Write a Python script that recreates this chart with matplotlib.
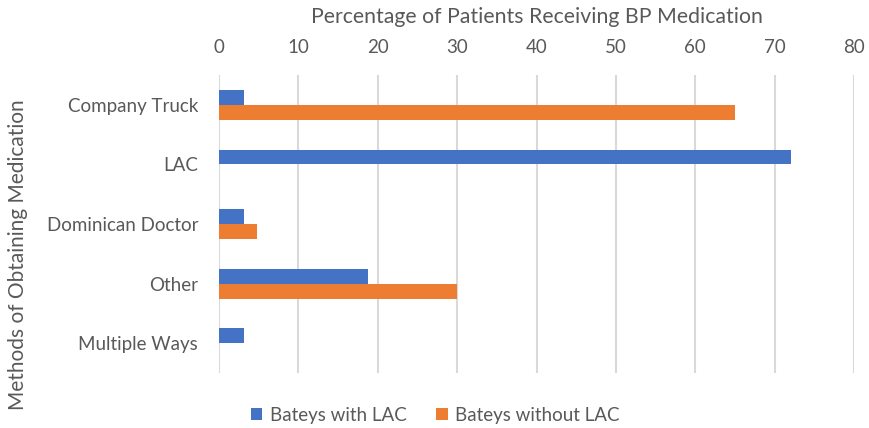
import numpy as np
import matplotlib.pyplot as plt

plt.rcParams["font.family"] = ["Lato", "DejaVu Sans"]

categories = ["Company Truck", "LAC", "Dominican Doctor", "Other", "Multiple Ways"]
with_lac = [3.1, 72, 3.1, 18.8, 3.1]
without_lac = [65, 0, 4.8, 30, 0]
xticks = [0, 10, 20, 30, 40, 50, 60, 70, 80]

text_color = "#595959"
blue = "#4472C4"
orange = "#ED7D31"

W, H = 870, 428
fig = plt.figure(figsize=(W / 100, H / 100), dpi=100)
top, bottom = 75, 373
ax = fig.add_axes([219 / W, 1 - bottom / H, (854 - 219) / W, (bottom - top) / H])

y = np.arange(len(categories))
h = 0.25
ax.barh(y - h / 2, with_lac, height=h, color=blue, label="Bateys with LAC", zorder=3)
ax.barh(y + h / 2, without_lac, height=h, color=orange, label="Bateys without LAC", zorder=3)

ax.set_ylim(len(categories) - 0.5, -0.5)
ax.set_xlim(0, 80)
ax.set_xticks(xticks)
ax.set_yticks(y)
ax.set_yticklabels(categories)
ax.xaxis.tick_top()
ax.xaxis.set_label_position("top")
ax.set_xlabel("Percentage of Patients Receiving BP Medication", fontsize=15.3,
              color=text_color, va="center")
ax.xaxis.set_label_coords(0.5, (bottom - 17) / (bottom - top))
ax.set_ylabel("Methods of Obtaining Medication", fontsize=15, color=text_color,
              va="center")
ax.yaxis.set_label_coords((18 - 219) / (854 - 219), (bottom - 255) / (bottom - top))

ax.tick_params(axis="both", length=0, labelsize=13.5, colors=text_color)
ax.tick_params(axis="x", pad=14)
ax.tick_params(axis="y", pad=15)
ax.grid(axis="x", color="#D9D9D9", linewidth=1.5, zorder=0)
for s in ax.spines.values():
    s.set_visible(False)

leg = fig.legend(loc="center left", bbox_to_anchor=(234 / W, 1 - 415 / H), ncol=2,
                 frameon=False, fontsize=13.5, handlelength=0.6, handleheight=0.6,
                 columnspacing=1.6, handletextpad=0.4)
for t in leg.get_texts():
    t.set_color(text_color)

fig.savefig("out.png", dpi=100)
